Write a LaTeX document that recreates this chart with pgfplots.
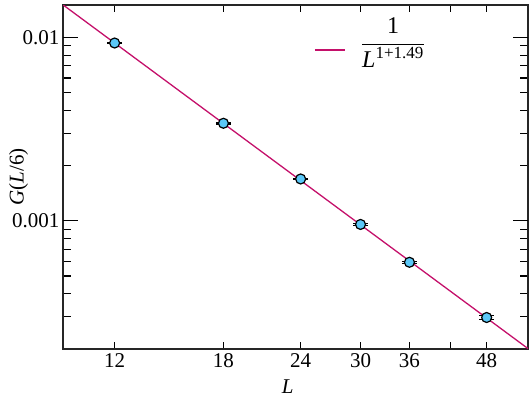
\documentclass[border=0pt]{standalone}
\usepackage{fontspec}
\setmainfont{Liberation Serif}
\usepackage{pgfplots}
\pgfplotsset{compat=1.18}
\definecolor{fitline}{HTML}{C4106A}
\definecolor{ptfill}{HTML}{5BC8F8}

\begin{document}
\begin{tikzpicture}[font=\fontsize{21}{24}\selectfont]
  \begin{axis}[
    at={(0,0)}, anchor=south west,
    scale only axis,
    width=465pt, height=344pt,
    xmode=log, ymode=log,
    xmin=9.9, xmax=56,
    ymin=2e-4, ymax=0.015,
    xtick={12,18,24,30,36,42,48},
    xticklabels={12,18,24,30,36,,48},
    minor xtick={},
    ytick={0.001,0.01},
    yticklabels={0.001,0.01},
    extra y ticks={0.001,0.01},
    extra y tick labels={},
    extra y tick style={major tick length=15pt},
    minor ytick={2e-4,3e-4,4e-4,5e-4,6e-4,7e-4,8e-4,9e-4,
                 0.002,0.003,0.004,0.005,0.006,0.007,0.008,0.009},
    tick align=inside,
    tick pos=both,
    major tick length=7.5pt,
    minor tick length=8pt,
    tick style={line width=1.1pt, black},
    axis line style={line width=1.6pt, black!85},
    xlabel={\textit{L}},
    ylabel={\textit{G}(\textit{L}/6)},
    every axis x label/.style={at={(axis description cs:0.483,-0.109)}, anchor=center},
    every axis y label/.style={at={(axis description cs:-0.0957,0.5)}, rotate=90, anchor=center},
    xticklabel style={yshift=-1pt},
    /pgf/number format/assume math mode=true,
    legend style={draw=none, fill=none, at={(0.540,0.913)}, anchor=west,
                  legend cell align=left, inner sep=0pt,
                  nodes={inner sep=4pt}},
    legend image code/.code={
      \draw[#1, line width=1.3pt] (0pt,-15pt) -- (30pt,-15pt);
      \path[draw=none] (0pt,-15pt) -- (42pt,-15pt);},
  ]
    \addplot[color=fitline, line width=1.3pt] coordinates {
      (9.9,0.01503) (56,0.000201)
    };
    \addlegendentry{\fontsize{24}{27}\selectfont$\displaystyle\frac{\mbox{1}}{\mbox{\textit{L}}^{\mbox{\fontsize{17}{19}\selectfont 1+1.49}}}$}

    \addplot[draw=none, mark=none, forget plot,
      error bars/.cd, y dir=both, y explicit, error mark=|,
      error bar style={line width=1.1pt, black},
      error mark options={line width=1.1pt, black, mark size=7.5pt}]
      coordinates {
        (12,0.00931) +- (0,0.00004)
        (18,0.00340) +- (0,0.00003)
        (24,0.00169) +- (0,0.000015)
        (30,0.000955) +- (0,0.00001)
        (36,0.000594) +- (0,0.000009)
        (48,0.000297) +- (0,0.000006)
      };
    \addplot[only marks, mark=*, mark size=5pt, forget plot,
      mark options={fill=ptfill, draw=black, line width=1.2pt}]
      coordinates {
        (12,0.00931) (18,0.00340) (24,0.00169)
        (30,0.000955) (36,0.000594) (48,0.000297)
      };
  \end{axis}
  \pgfresetboundingbox
  \path[use as bounding box] (-63pt,-58pt) rectangle (469pt,349pt);
\end{tikzpicture}
\end{document}
